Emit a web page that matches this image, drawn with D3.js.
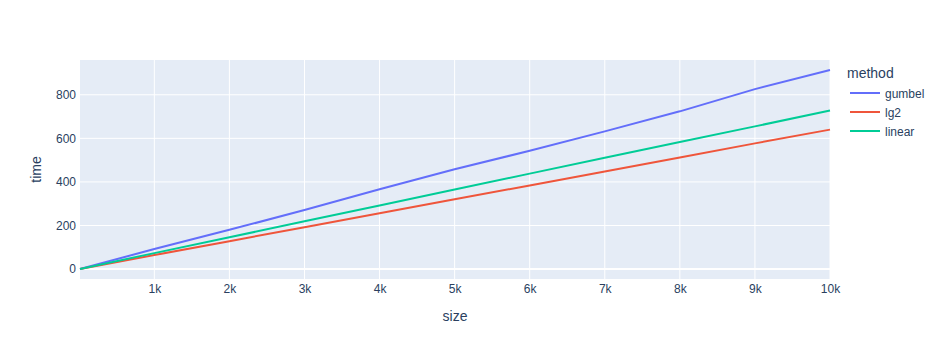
<!DOCTYPE html>
<html>
<head>
<meta charset="utf-8">
<script src="https://cdn.jsdelivr.net/npm/d3@7"></script>
<style>
	body { margin: 0; background: #fff; }
	svg { font-family: "Liberation Sans", Arial, sans-serif; }
</style>
</head>
<body>
<div id="chart"></div>
<script>
// values
var sizes = [10, 1000, 2000, 3000, 4000, 5000, 6000, 7000, 8000, 9000, 10000];
var gumbel = [0, 92, 180, 271, 366, 458, 543, 632, 724, 826, 914];
var lg2 = [0, 64, 128, 192, 256, 320, 384, 448, 512, 577, 640];
var linear = [0, 73, 146, 219, 292, 365, 438, 511, 583, 655, 728];
var methods = ['gumbel', 'lg2', 'linear'];
var xTicks = [1000, 2000, 3000, 4000, 5000, 6000, 7000, 8000, 9000, 10000];
var yTicks = [0, 200, 400, 600, 800];

var series = [
	{name: methods[0], values: gumbel, color: '#636efa'},
	{name: methods[1], values: lg2, color: '#EF553B'},
	{name: methods[2], values: linear, color: '#00cc96'}
];

var W = 942, H = 360;
var plotL = 80, plotR = 830, plotT = 60, plotB = 279;
var ink = '#2a3f5f';

var svg = d3.select('#chart').append('svg')
	.attr('width', W).attr('height', H);

var x = d3.scaleLinear().domain([sizes[0], sizes[sizes.length - 1]]).range([plotL, plotR]);
var ymax = d3.max(series, function(s) { return d3.max(s.values); });
var pad = ymax * 0.05;
var y = d3.scaleLinear().domain([-pad, ymax + pad]).range([plotB, plotT]);

svg.append('rect')
	.attr('x', plotL).attr('y', plotT)
	.attr('width', plotR - plotL).attr('height', plotB - plotT)
	.style('fill', '#E5ECF6');

// grid
var grid = svg.append('g');
grid.selectAll('line.gx').data(xTicks).enter().append('line')
	.attr('x1', function(d) { return x(d); }).attr('x2', function(d) { return x(d); })
	.attr('y1', plotT).attr('y2', plotB)
	.style('stroke', '#fff').style('stroke-width', 1);
grid.selectAll('line.gy').data(yTicks).enter().append('line')
	.attr('x1', plotL).attr('x2', plotR)
	.attr('y1', function(d) { return y(d); }).attr('y2', function(d) { return y(d); })
	.style('stroke', '#fff').style('stroke-width', function(d) { return d === 0 ? 2 : 1; });

// axes, labels only
var fmt = function(d) { return d3.format('~s')(d); };
var xAxis = svg.append('g')
	.attr('transform', 'translate(0,' + plotB + ')')
	.call(d3.axisBottom(x).tickValues(xTicks).tickFormat(fmt).tickSize(0).tickPadding(5));
var yAxis = svg.append('g')
	.attr('transform', 'translate(' + plotL + ',0)')
	.call(d3.axisLeft(y).tickValues(yTicks).tickSize(0).tickPadding(4));
[xAxis, yAxis].forEach(function(a) {
	a.select('.domain').remove();
	a.selectAll('text')
		.style('font-size', '12px')
		.style('font-family', '"Liberation Sans", Arial, sans-serif')
		.style('fill', ink);
});

// lines
var line = d3.line()
	.x(function(d, i) { return x(sizes[i]); })
	.y(function(d) { return y(d); });

svg.append('g').selectAll('path').data(series).enter().append('path')
	.attr('d', function(s) { return line(s.values); })
	.style('fill', 'none')
	.style('stroke', function(s) { return s.color; })
	.style('stroke-width', 2)
	.style('stroke-linejoin', 'round');

// axis titles
svg.append('text')
	.attr('x', (plotL + plotR) / 2).attr('y', 321)
	.attr('text-anchor', 'middle')
	.style('font-size', '14px').style('fill', ink)
	.text('size');
svg.append('text')
	.attr('transform', 'translate(41,' + ((plotT + plotB) / 2) + ') rotate(-90)')
	.attr('text-anchor', 'middle')
	.style('font-size', '14px').style('fill', ink)
	.text('time');

// legend
var legend = svg.append('g').attr('transform', 'translate(847,0)');
legend.append('text')
	.attr('x', 0).attr('y', 78)
	.style('font-size', '14px').style('fill', ink)
	.text('method');
var item = legend.selectAll('g.item').data(series).enter().append('g')
	.attr('transform', function(d, i) { return 'translate(0,' + (93 + i * 19) + ')'; });
item.append('line')
	.attr('x1', 3).attr('x2', 33).attr('y1', 0).attr('y2', 0)
	.style('stroke', function(d) { return d.color; })
	.style('stroke-width', 2);
item.append('text')
	.attr('x', 38).attr('y', 4.5)
	.style('font-size', '12px').style('fill', ink)
	.text(function(d) { return d.name; });
</script>
</body>
</html>
